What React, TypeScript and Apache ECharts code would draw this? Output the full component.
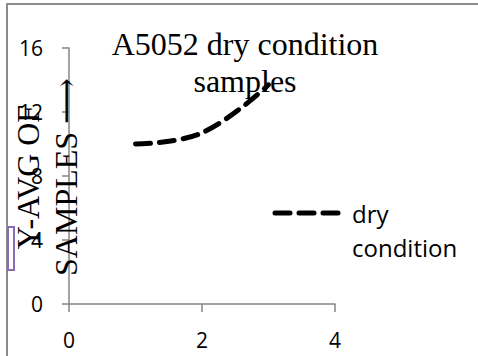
import React, { useEffect, useRef } from "react";
import * as echarts from "echarts";

const titleText = "A5052 dry condition\nsamples";
const yAxisName = "Y-AVG OF\nSAMPLES ⟶";
const seriesName = "dry condition";
const legendLines = ["dry", "condition"];
const xValues = [1, 2, 3];
const yValues = [10.0, 10.7, 13.7];
const xMin = 0;
const xMax = 4;
const xInterval = 2;
const yMin = 0;
const yMax = 16;
const yInterval = 4;

export default function App() {
  const ref = useRef<HTMLDivElement>(null);
  useEffect(() => {
    if (!ref.current) return;
    const chart = echarts.init(ref.current, null, { renderer: "svg" });
    const axisColor = "#868686";
    const sans = "'Open Sans', 'Liberation Sans', sans-serif";
    const serif = "'Liberation Serif', 'DejaVu Serif', serif";
    chart.setOption({
      animation: false,
      backgroundColor: "#ffffff",
      title: {
        text: titleText,
        left: 245,
        top: 25,
        textAlign: "center",
        padding: 0,
        textStyle: {
          fontFamily: serif,
          fontSize: 32,
          fontWeight: "normal",
          color: "#000",
          lineHeight: 37,
        },
      },
      grid: {
        left: 69,
        top: 48,
        right: 143,
        bottom: 52,
        containLabel: false,
        outerBoundsMode: "none",
      },
      xAxis: {
        type: "value",
        min: xMin,
        max: xMax,
        interval: xInterval,
        splitLine: { show: false },
        axisLine: { show: true, lineStyle: { color: axisColor, width: 1.5 } },
        axisTick: { show: true, length: 8, lineStyle: { color: axisColor, width: 1.5 } },
        axisLabel: { margin: 25, fontFamily: sans, fontSize: 21, color: "#000" },
      },
      yAxis: {
        type: "value",
        min: yMin,
        max: yMax,
        interval: yInterval,
        splitLine: { show: false },
        axisLine: { show: true, lineStyle: { color: axisColor, width: 1.5 } },
        axisTick: { show: true, length: 7, lineStyle: { color: axisColor, width: 1.5 } },
        axisLabel: { margin: 26, fontFamily: sans, fontSize: 21, color: "#000" },
      },
      series: [
        {
          name: seriesName,
          type: "line",
          data: xValues.map((x, i) => [x, yValues[i]]),
          smooth: 0.4,
          showSymbol: false,
          lineStyle: { color: "#000", width: 5, type: [15, 9], cap: "round" },
        },
      ],
      graphic: [
        {
          type: "rect",
          shape: { x: 7, y: 4, width: 700, height: 700 },
          style: { fill: "none", stroke: "#8c8c8c", lineWidth: 2 },
          z: 0,
        },
        {
          type: "text",
          x: 47,
          y: 177,
          rotation: Math.PI / 2,
          style: {
            text: yAxisName,
            fontFamily: serif,
            fontSize: 32,
            lineHeight: 38,
            fill: "#000",
            align: "center",
            verticalAlign: "middle",
          },
          z: 10,
        },
        {
          type: "rect",
          shape: { x: 8, y: 227, width: 6, height: 43 },
          style: { fill: "#fff", stroke: "#8a6bb5", lineWidth: 2 },
          z: 11,
        },
        {
          type: "line",
          shape: { x1: 275, y1: 213, x2: 338, y2: 213 },
          style: { stroke: "#000", lineWidth: 5, lineDash: [15, 9], lineCap: "round" },
          z: 10,
        },
        {
          type: "text",
          x: 352,
          y: 213,
          style: {
            text: legendLines[0],
            fontFamily: sans,
            fontSize: 24,
            fill: "#000",
            verticalAlign: "middle",
          },
          z: 10,
        },
        {
          type: "text",
          x: 352,
          y: 247,
          style: {
            text: legendLines[1],
            fontFamily: sans,
            fontSize: 24,
            fill: "#000",
            verticalAlign: "middle",
          },
          z: 10,
        },
      ],
    });
    return () => chart.dispose();
  }, []);
  return (
    <div
      ref={ref}
      style={{ position: "absolute", left: 0, top: 0, width: 478, height: 356 }}
    />
  );
}
